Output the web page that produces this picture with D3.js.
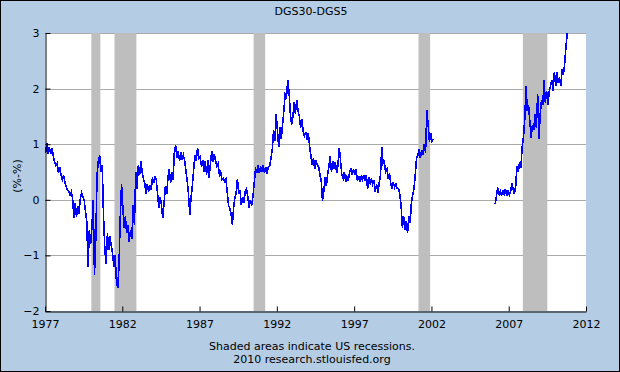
<!DOCTYPE html>
<html><head><meta charset="utf-8">
<script src="https://cdn.jsdelivr.net/npm/d3@7"></script>
<style>body{margin:0;padding:0;background:#fff}svg{display:block}text{font-family:"DejaVu Sans",Verdana,sans-serif}</style>
</head><body><svg id="c" width="620" height="372"></svg>
<script>
const chartTitle = "DGS30-DGS5";
const yAxisLabel = "(%-%)";
const footerLines = ["Shaded areas indicate US recessions.", "2010 research.stlouisfed.org"];
const xTickYears = [1977, 1982, 1987, 1992, 1997, 2002, 2007, 2012];
const yTickValues = [-2, -1, 0, 1, 2, 3];
const recessionStarts = ["1980-01", "1981-07", "1990-07", "2001-03", "2007-12"];
const recessionEnds   = ["1980-07", "1982-11", "1991-03", "2001-11", "2009-06"];

// Monthly spread values (percent), segment 1 starts Jan 1977
const seg1Start = "1977-01";
const seg1Values = [
 0.85,1.02,0.82,0.95,0.83,0.92,0.80,0.68,0.62,0.66,0.48,0.58,
 0.45,0.36,0.44,0.32,0.25,0.18,0.15,0.08,0.14,0.02,-0.32,-0.05,
 -0.30,-0.12,-0.25,0.02,0.12,0.05,0.00,-0.20,-0.40,-1.20,-0.55,-0.80,
 -0.50,0.00,-1.35,-0.70,0.45,0.70,0.80,0.50,0.62,-0.30,-0.90,-1.15,
 -0.60,-0.90,-0.65,-0.82,-0.95,-1.20,-1.00,-1.45,-1.58,-1.20,-0.30,0.28,
 -0.15,-0.50,-0.30,-0.60,-0.45,-0.75,-0.55,-0.70,-0.10,-0.45,0.50,0.20,
 0.62,0.45,0.70,0.50,0.38,0.30,0.10,0.28,0.15,0.26,0.18,0.40,
 0.30,0.42,0.35,0.10,-0.15,0.05,-0.10,-0.33,-0.05,0.25,0.10,0.40,
 0.55,0.30,0.50,0.35,0.85,0.98,0.75,0.87,0.70,0.85,0.72,0.80,
 0.70,0.50,0.35,0.10,-0.27,0.05,0.25,0.55,0.80,0.70,0.93,0.75,
 0.78,0.60,0.72,0.50,0.70,0.45,0.72,0.40,0.65,0.87,0.68,0.82,
 0.70,0.60,0.65,0.45,0.50,0.36,0.38,0.33,0.37,0.15,-0.10,-0.15,
 -0.25,-0.45,-0.15,0.05,0.12,0.38,0.10,0.18,-0.10,0.05,-0.05,0.15,
 0.20,0.05,-0.15,0.00,-0.10,0.05,0.30,0.55,0.50,0.62,0.48,0.60,
 0.50,0.62,0.48,0.58,0.47,0.60,0.60,0.75,0.90,1.25,1.05,1.55,
 1.25,0.95,1.30,1.10,1.35,1.60,1.90,1.85,2.15,1.95,1.55,1.35,
 1.50,1.75,1.55,1.80,1.60,1.50,1.30,1.45,1.22,1.15,1.22,1.08,
 1.20,0.95,0.80,0.62,0.75,0.55,0.72,0.62,0.60,0.45,0.35,-0.02,
 0.15,0.40,0.25,0.45,0.60,0.78,0.50,0.70,0.55,0.68,0.48,0.62,
 0.93,0.70,0.45,0.38,0.50,0.32,0.42,0.35,0.50,0.57,0.44,0.55,
 0.45,0.55,0.35,0.43,0.32,0.42,0.36,0.45,0.34,0.44,0.20,0.40,
 0.30,0.38,0.28,0.35,0.15,0.28,0.12,0.30,0.45,0.95,0.65,0.68,
 0.50,0.55,0.38,0.48,0.30,0.20,0.32,0.22,0.28,0.20,0.20,0.10,
 -0.10,-0.50,-0.30,-0.55,-0.38,-0.60,-0.30,-0.42,-0.05,0.08,0.20,0.45,
 0.75,0.80,0.92,0.75,0.90,0.80,1.00,0.85,1.62,1.35,1.05,1.20,
 1.05,1.10
];
// segment 2 starts Feb 2006 (30-year series resumed)
const seg2Start = "2006-02";
const seg2Values = [
 -0.08,0.05,0.22,0.08,0.15,0.07,0.18,0.10,0.20,0.07,0.15,
 0.08,0.15,0.30,0.20,0.10,0.25,0.60,0.50,0.68,0.58,0.95,1.12,
 1.45,2.05,1.60,1.70,1.40,1.12,1.35,1.25,1.55,1.30,1.90,1.10,
 1.55,1.80,1.70,2.15,1.75,1.95,1.70,1.95,2.05,2.15,1.95,2.30,
 2.05,2.30,2.10,2.20,2.05,2.35,2.25,2.45,2.75,3.00
];

const W = 620, H = 372;
const plot = {left: 45, right: 586, top: 33, bottom: 311};
const parseMonth = d3.timeParse("%Y-%m");

function toSeries(start, vals) {
  const s = parseMonth(start);
  return vals.map((v, i) => ({date: d3.timeDay.offset(d3.timeMonth.offset(s, i), 14), value: v}));
}
const series = [toSeries(seg1Start, seg1Values), toSeries(seg2Start, seg2Values)];

const svg = d3.select("#c");
svg.append("rect").attr("x",0.5).attr("y",0.5).attr("width",W-1).attr("height",H-1)
  .attr("fill","#b4cde4").attr("stroke","#000").attr("stroke-width",1);

const x = d3.scaleTime().domain([new Date(1977,0,1), new Date(2012,0,1)]).range([plot.left, plot.right]);
const y = d3.scaleLinear().domain([-2, 3]).range([plot.bottom, plot.top]);

svg.append("rect").attr("x",plot.left).attr("y",plot.top)
  .attr("width",plot.right-plot.left).attr("height",plot.bottom-plot.top).attr("fill","#fff");

// gridlines
svg.append("g").selectAll("line").data(yTickValues.filter(v => v > -2)).join("line")
  .attr("x1",plot.left).attr("x2",plot.right)
  .attr("y1",d => Math.round(y(d))+0.5).attr("y2",d => Math.round(y(d))+0.5)
  .attr("stroke","#aaaaaa").attr("stroke-width",1);

// recessions
svg.append("g").selectAll("rect").data(recessionStarts.map((s,i)=>({s:parseMonth(s), e:d3.timeMonth.offset(parseMonth(recessionEnds[i]),1)})))
  .join("rect")
  .attr("x",d => x(d.s)).attr("width",d => x(d.e)-x(d.s))
  .attr("y",plot.top).attr("height",plot.bottom-plot.top)
  .attr("fill","#bebebe");

svg.append("clipPath").attr("id","clip").append("rect")
  .attr("x",plot.left).attr("y",plot.top).attr("width",plot.right-plot.left).attr("height",plot.bottom-plot.top);

const line = d3.line().x(d => x(d.date)).y(d => y(d.value));
svg.append("g").attr("clip-path","url(#clip)").selectAll("path").data(series).join("path")
  .attr("d", line).attr("fill","none").attr("stroke","#0000ff").attr("stroke-width",1.6)
  .attr("stroke-linejoin","miter").attr("shape-rendering","crispEdges");

// axes
const yAxis = d3.axisLeft(y).tickValues(yTickValues).tickSize(-5).tickSizeOuter(0).tickPadding(6).tickFormat(d3.format("d"));
const gy = svg.append("g").attr("transform",`translate(${plot.left+0.5},0)`).call(yAxis);
const xAxis = d3.axisBottom(x).tickValues(xTickYears.map(yr => new Date(yr,0,1))).tickSize(-5).tickSizeOuter(0).tickPadding(9).tickFormat(d3.timeFormat("%Y"));
const gx = svg.append("g").attr("transform",`translate(0,${plot.bottom+0.5})`).call(xAxis);
[gx, gy].forEach(g => {
  g.select(".domain").attr("stroke","#000").attr("stroke-width",1);
  g.selectAll(".tick line").attr("stroke","#000");
  g.selectAll(".tick text").attr("fill","#000").style("font-size","11px").style("font-family",'"DejaVu Sans",Verdana,sans-serif');
});

svg.append("text").attr("x",311).attr("y",15).attr("text-anchor","middle")
  .style("font-size","11px").attr("fill","#000").text(chartTitle);
svg.append("text").attr("transform","translate(21,176) rotate(-90)").attr("text-anchor","middle")
  .style("font-size","11px").attr("fill","#000").text(yAxisLabel);
svg.selectAll("text.foot").data(footerLines).join("text").attr("class","foot")
  .attr("x",312).attr("y",(d,i) => 350 + i*13).attr("text-anchor","middle")
  .style("font-size","11px").attr("fill","#000").text(d => d);
</script></body></html>
